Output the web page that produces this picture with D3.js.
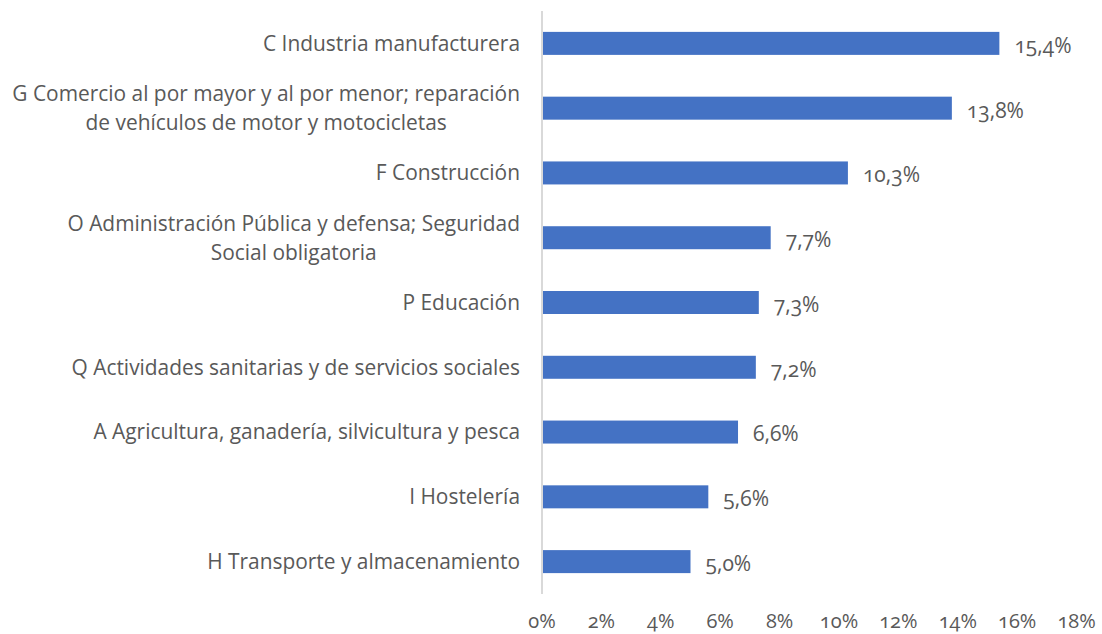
<!DOCTYPE html>
<html><head><meta charset="utf-8">
<script src="https://cdn.jsdelivr.net/npm/d3@7"></script>
<style>
body{margin:0;background:#fff;}
text{font-family:"Open Sans",sans-serif;fill:#595959;font-feature-settings:"onum";}
</style></head>
<body><svg id="c" width="1102" height="634"></svg>
<script>
const categories = [
  ["C Industria manufacturera"],
  ["G Comercio al por mayor y al por menor; reparación","de vehículos de motor y motocicletas"],
  ["F Construcción"],
  ["O Administración Pública y defensa; Seguridad","Social obligatoria"],
  ["P Educación"],
  ["Q Actividades sanitarias y de servicios sociales"],
  ["A Agricultura, ganadería, silvicultura y pesca"],
  ["I Hostelería"],
  ["H Transporte y almacenamiento"]
];
const values = [15.4, 13.8, 10.3, 7.7, 7.3, 7.2, 6.6, 5.6, 5.0];
const tickValues = [0,2,4,6,8,10,12,14,16,18];

const svg = d3.select("#c");
const x = d3.scaleLinear().domain([0,18]).range([542,1076.6]);
const y = d3.scaleBand().domain(d3.range(categories.length)).range([11,594]).paddingInner(0.645).paddingOuter(0.3225);
const fmt = v => v.toFixed(1).replace(".", ",") + "%";

svg.selectAll("rect.bar").data(values).join("rect")
  .attr("class","bar")
  .attr("x", x(0)).attr("y",(d,i)=>y(i))
  .attr("width", d=>x(d)-x(0)).attr("height", y.bandwidth())
  .attr("fill","#4472c4");

svg.append("line").attr("x1",x(0)).attr("x2",x(0)).attr("y1",11).attr("y2",594)
  .attr("stroke","#d9d9d9").attr("stroke-width",2);

svg.selectAll("text.val").data(values).join("text")
  .attr("class","val")
  .attr("x", d=>x(d)+15).attr("y",(d,i)=>y(i)+y.bandwidth()/2+2)
  .attr("dy","0.35em").attr("font-size","21px").text(fmt);

const lab = svg.selectAll("text.cat").data(categories).join("text")
  .attr("class","cat").attr("font-size","20.9px");
lab.each(function(lines,i){
  const t = d3.select(this);
  const cy = y(i)+y.bandwidth()/2;
  const lh = 29;
  const y0 = cy - (lines.length-1)*lh/2;
  lines.forEach((s,j)=>{
    t.append("tspan").attr("x", 520).attr("y", y0+j*lh).attr("dy","0.35em").attr("text-anchor","end").text(s);
  });
});

lab.each(function(lines,i){
  if(lines.length<2) return;
  const ts = d3.select(this).selectAll("tspan").nodes();
  const w0 = ts[0].getComputedTextLength();
  const mid = 520 - w0/2;
  for(let j=1;j<ts.length;j++){ d3.select(ts[j]).attr("x",mid).attr("text-anchor","middle"); }
});

svg.selectAll("text.tick").data(tickValues).join("text")
  .attr("class","tick").attr("x",d=>x(d)).attr("y",628)
  .attr("text-anchor","middle").attr("font-size","20px").text(d=>d+"%");
</script></body></html>
